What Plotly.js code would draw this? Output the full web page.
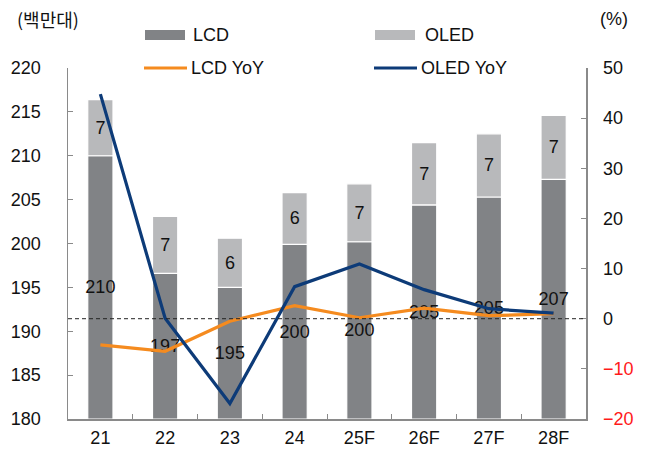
<!DOCTYPE html>
<html>
<head>
<meta charset="utf-8">
<script src="https://cdn.plot.ly/plotly-3.0.1.min.js"></script>
<style>html,body{margin:0;padding:0;background:#fff;}#chart{width:651px;height:450px;}</style>
</head>
<body>
<div id="chart"></div>
<script>
// ---- data ----
const categories = ['21', '22', '23', '24', '25F', '26F', '27F', '28F'];
const lcdUnits = [210, 196.6, 195, 199.9, 200.2, 204.4, 205.3, 207.3];
const lcdLabels = ['210', '197', '195', '200', '200', '205', '205', '207'];
const oledUnits = [6.4, 6.5, 5.6, 5.9, 6.6, 7.1, 7.2, 7.3];
const oledLabels = ['7', '7', '6', '6', '7', '7', '7', '7'];
const lcdYoY = [-5.2, -6.5, -0.5, 2.6, 0.2, 2.1, 0.6, 1.0];
const oledYoY = [44.8, 0.1, -16.9, 6.4, 10.9, 5.8, 2.0, 1.1];
const leftTicks = [180, 185, 190, 195, 200, 205, 210, 215, 220];
const rightTicks = [-20, -10, 0, 10, 20, 30, 40, 50];
const seriesNames = ['LCD', 'OLED', 'LCD YoY', 'OLED YoY'];
const leftUnit = '(백만대)';
const rightUnit = '(%)';

// ---- styles ----
const FONT = 'Liberation Sans, Arial, sans-serif';
const C_LCD = '#818386';
const C_OLED = '#b8b9bb';
const C_LCDYOY = '#f58b1f';
const C_OLEDYOY = '#0d3b78';
const W = 651, H = 450;
const M = {l: 68, r: 65, t: 68, b: 31};
const base = leftTicks[0];

const traces = [
  {
    type: 'bar', name: seriesNames[0], x: categories,
    y: lcdUnits.map(v => v - base), base: base,
    text: lcdLabels, textposition: 'inside', insidetextanchor: 'middle',
    constraintext: 'none', textangle: 0, cliponaxis: false,
    insidetextfont: {family: FONT, size: 18, color: '#111'},
    marker: {color: C_LCD, line: {color: '#fff', width: 1.2}},
    width: 0.39, yaxis: 'y', hoverinfo: 'x+text'
  },
  {
    type: 'bar', name: seriesNames[1], x: categories,
    y: oledUnits, base: lcdUnits,
    text: oledLabels, textposition: 'inside', insidetextanchor: 'middle',
    constraintext: 'none', textangle: 0,
    insidetextfont: {family: FONT, size: 18, color: '#111'},
    marker: {color: C_OLED, line: {color: '#fff', width: 1.2}},
    width: 0.39, yaxis: 'y', hoverinfo: 'x+text'
  },
  {
    type: 'scatter', mode: 'lines', name: seriesNames[2], x: categories, y: lcdYoY,
    line: {color: C_LCDYOY, width: 3.2}, yaxis: 'y2'
  },
  {
    type: 'scatter', mode: 'lines', name: seriesNames[3], x: categories, y: oledYoY,
    line: {color: C_OLEDYOY, width: 3.2}, yaxis: 'y2'
  }
];

// pixel -> paper helpers (for legend / unit labels only)
const pw = W - M.l - M.r, ph = H - M.t - M.b;
const px = v => (v - M.l) / pw;
const py = v => (H - M.b - v) / ph;

const shapes = [
  {type: 'line', xref: 'paper', yref: 'y2', x0: 0, x1: 1, y0: 0, y1: 0,
   line: {color: '#222', width: 1, dash: '4px,3px'}, layer: 'above'},
  // custom legend symbols
  {type: 'rect', xref: 'paper', yref: 'paper', x0: px(145), x1: px(185), y0: py(40), y1: py(30),
   fillcolor: C_LCD, line: {width: 0}},
  {type: 'rect', xref: 'paper', yref: 'paper', x0: px(375), x1: px(415), y0: py(40), y1: py(30),
   fillcolor: C_OLED, line: {width: 0}},
  {type: 'line', xref: 'paper', yref: 'paper', x0: px(144), x1: px(187), y0: py(68), y1: py(68),
   line: {color: C_LCDYOY, width: 3}},
  {type: 'line', xref: 'paper', yref: 'paper', x0: px(374), x1: px(417), y0: py(68), y1: py(68),
   line: {color: C_OLEDYOY, width: 3}}
];

const legText = (t, x, y) => ({
  text: t, xref: 'paper', yref: 'paper', x: px(x), y: py(y), xanchor: 'left', yanchor: 'middle',
  showarrow: false, font: {family: FONT, size: 18, color: '#111'}
});

const annotations = [
  legText(seriesNames[0], 191, 35),
  legText(seriesNames[1], 423, 35),
  legText(seriesNames[2], 189, 68),
  legText(seriesNames[3], 419, 68),
  {text: leftUnit, xref: 'paper', yref: 'paper', x: px(48), y: py(19), xanchor: 'center', yanchor: 'middle',
   showarrow: false, font: {family: 'Noto Sans CJK KR, sans-serif', size: 18, color: '#111'}},
  {text: rightUnit, xref: 'paper', yref: 'paper', x: px(614), y: py(19), xanchor: 'center', yanchor: 'middle',
   showarrow: false, font: {family: FONT, size: 18, color: '#111'}}
];

const layout = {
  width: W, height: H,
  margin: M,
  paper_bgcolor: '#fff', plot_bgcolor: '#fff',
  barmode: 'overlay',
  showlegend: false,
  font: {family: FONT, size: 18, color: '#111'},
  xaxis: {
    type: 'category', showline: true, linecolor: '#8a8a8a', linewidth: 1.5,
    ticks: 'inside', tickson: 'boundaries', ticklen: 5, tickcolor: '#8a8a8a',
    showgrid: false, zeroline: false, ticklabelstandoff: 2,
    tickfont: {family: FONT, size: 18, color: '#111'}
  },
  yaxis: {
    range: [leftTicks[0], leftTicks[leftTicks.length - 1]], tickvals: leftTicks,
    showline: true, linecolor: '#8a8a8a', linewidth: 1.5,
    ticks: 'inside', ticklen: 5, tickcolor: '#8a8a8a',
    showgrid: false, zeroline: false, ticklabelstandoff: 22,
    tickfont: {family: FONT, size: 18, color: '#111'}
  },
  yaxis2: {
    range: [rightTicks[0], rightTicks[rightTicks.length - 1]], overlaying: 'y', side: 'right',
    tickvals: rightTicks,
    ticktext: rightTicks.map(v => v < 0 ? '<span style="color:#ff1a1a">−' + Math.abs(v) + '</span>' : String(v)),
    showline: true, linecolor: '#8a8a8a', linewidth: 1.5,
    ticks: 'inside', ticklen: 5, tickcolor: '#8a8a8a',
    showgrid: false, zeroline: false, ticklabelstandoff: 12,
    tickfont: {family: FONT, size: 18, color: '#111'}
  },
  shapes: shapes,
  annotations: annotations
};

Plotly.newPlot('chart', traces, layout, {staticPlot: true, displayModeBar: false});
</script>
</body>
</html>
